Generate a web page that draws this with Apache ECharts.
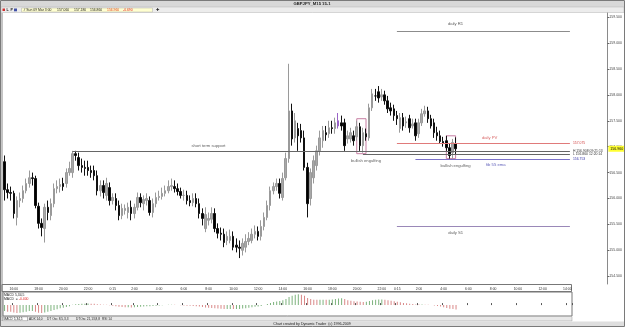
<!DOCTYPE html>
<html><head><meta charset="utf-8">
<script src="https://cdn.jsdelivr.net/npm/echarts@6/dist/echarts.min.js"></script>
<style>html,body{margin:0;padding:0;background:#fff;overflow:hidden}#c{width:625px;height:327px}</style>
</head><body><div id="c"></div>
<script>
// ---- data (GBPJPY M15) ----
const opens = [156.71,156.17,156.115,156.10,155.635,155.96,156.00,156.15,156.29,156.40,
156.385,155.85,155.52,155.42,155.83,155.67,155.90,156.19,156.23,156.29,
156.29,156.50,156.50,156.865,156.79,156.635,156.60,156.60,156.54,156.54,
156.44,156.15,156.25,156.06,156.21,155.96,156.00,155.865,155.67,155.77,
155.73,155.83,155.71,155.83,156.02,155.90,155.96,155.96,155.73,155.90,
156.02,156.04,156.10,156.15,156.23,156.23,156.19,156.135,156.06,156.06,
155.96,155.92,156.00,155.90,155.71,155.42,155.58,155.60,155.71,155.42,
155.33,155.31,155.19,155.19,155.27,155.10,155.06,155.00,155.06,155.17,
155.19,155.31,155.365,155.27,155.46,155.635,155.865,156.15,156.23,156.29,
156.02,156.40,156.77,157.69,157.17,157.35,157.31,157.17,156.60,156.00,
156.40,156.635,156.92,157.115,157.27,157.25,157.365,157.35,157.40,157.46,
157.46,157.15,157.15,157.21,157.19,157.385,157.02,157.25,157.17,157.75,
157.98,158.06,157.96,158.00,157.885,157.75,157.73,157.60,157.35,157.56,
157.46,157.54,157.40,157.46,157.25,157.46,157.635,157.69,157.54,157.46,
157.27,157.21,157.10,157.115,156.98,156.885,157.06];
const closes = [156.17,156.115,156.10,155.71,155.96,156.00,156.15,156.29,156.40,156.385,
155.865,155.52,155.44,155.83,155.73,155.90,156.19,156.23,156.27,156.23,
156.50,156.58,156.865,156.83,156.635,156.60,156.58,156.54,156.50,156.44,
156.15,156.25,156.115,156.29,155.96,156.02,155.865,155.67,155.81,155.81,
155.83,155.71,155.83,156.02,155.92,155.98,156.00,155.73,155.90,156.02,
156.04,156.10,156.15,156.23,156.25,156.19,156.135,156.06,156.06,155.96,
155.92,156.00,155.90,155.71,155.615,155.69,155.615,155.71,155.42,155.33,
155.31,155.15,155.27,155.27,155.06,155.06,155.04,155.135,155.17,155.23,
155.31,155.365,155.27,155.46,155.635,155.865,156.15,156.23,156.29,156.10,
156.385,156.77,157.69,157.15,157.50,157.21,157.17,156.60,155.90,156.50,
156.73,156.92,157.17,157.31,157.23,157.365,157.35,157.46,157.50,157.40,
157.02,157.21,157.27,157.115,157.385,157.02,157.27,157.19,157.75,158.02,
157.98,157.94,158.00,157.885,157.73,157.69,157.60,157.54,157.56,157.40,
157.48,157.365,157.44,157.21,157.46,157.635,157.69,157.54,157.40,157.27,
157.21,157.10,157.06,156.98,156.83,157.08,156.96];
const lows = [155.96,156.00,155.96,155.615,155.48,155.83,155.92,156.10,156.21,156.25,
155.81,155.42,155.27,155.15,155.58,155.58,155.83,156.10,156.115,156.15,
156.21,156.44,156.40,156.73,156.54,156.50,156.44,156.44,156.40,156.35,
156.06,156.04,156.00,155.96,155.865,155.885,155.77,155.58,155.60,155.69,
155.615,155.58,155.615,155.77,155.83,155.77,155.865,155.67,155.635,155.83,
155.96,155.98,156.04,156.10,156.15,156.115,156.06,156.00,155.96,155.885,
155.85,155.85,155.83,155.615,155.48,155.35,155.48,155.52,155.35,155.23,
155.19,155.06,155.10,155.135,155.00,154.96,154.85,154.90,154.96,155.10,
155.135,155.23,155.19,155.19,155.385,155.58,155.77,156.08,156.15,156.00,
155.96,156.35,156.69,157.02,157.08,156.92,157.08,156.54,155.635,155.865,
156.29,156.54,156.83,156.98,157.115,157.17,157.25,157.25,157.35,157.31,
156.92,157.06,157.08,157.02,157.115,156.92,156.885,157.115,157.115,157.69,
157.885,157.85,157.885,157.81,157.65,157.60,157.50,157.42,157.27,157.31,
157.365,157.27,157.35,157.115,157.17,157.40,157.58,157.46,157.35,157.17,
157.115,157.06,157.00,156.92,156.77,156.77,156.86];
const highs = [156.83,156.29,156.23,156.15,156.04,156.115,156.25,156.385,156.54,156.50,
156.44,155.92,155.615,155.90,155.96,156.00,156.29,156.35,156.385,156.40,
156.58,156.71,156.92,156.92,156.885,156.77,156.73,156.73,156.635,156.635,
156.54,156.35,156.35,156.40,156.31,156.10,156.10,155.96,155.90,155.885,
155.92,155.96,155.90,156.115,156.10,156.06,156.10,156.04,156.00,156.115,
156.15,156.21,156.25,156.35,156.385,156.35,156.29,156.21,156.17,156.15,
156.06,156.10,156.10,156.00,155.81,155.83,155.73,155.83,155.81,155.52,
155.44,155.42,155.365,155.40,155.365,155.23,155.19,155.23,155.31,155.35,
155.42,155.48,155.46,155.58,155.73,155.96,156.23,156.31,156.385,156.385,
156.50,156.885,158.60,157.83,157.65,157.46,157.44,157.31,156.69,156.58,
156.83,157.02,157.31,157.40,157.40,157.50,157.50,157.56,157.65,157.60,
157.54,157.31,157.365,157.31,157.50,157.46,157.365,157.35,157.83,158.115,
158.115,158.17,158.115,158.08,157.98,157.85,157.81,157.69,157.65,157.65,
157.58,157.615,157.54,157.54,157.54,157.73,157.79,157.77,157.615,157.54,
157.385,157.31,157.19,157.21,157.06,157.15,157.18];
const macdHist = [-0.55,-0.6,-0.62,-0.68,-0.72,-0.7,-0.66,-0.6,-0.55,-0.55,
-0.62,-0.7,-0.72,-0.68,-0.62,-0.55,-0.45,-0.38,-0.3,-0.25,
-0.18,-0.1,0.02,0.08,0.1,0.12,0.13,0.14,0.13,0.12,
0.08,0.05,0.03,0.02,-0.02,-0.05,-0.1,-0.15,-0.18,-0.2,
-0.2,-0.21,-0.2,-0.17,-0.15,-0.12,-0.1,-0.1,-0.08,-0.05,
-0.03,-0.01,0.01,0.02,0.03,0.02,0.01,-0.01,-0.03,-0.05,
-0.07,-0.08,-0.1,-0.14,-0.18,-0.22,-0.25,-0.26,-0.28,-0.32,
-0.34,-0.36,-0.36,-0.35,-0.36,-0.36,-0.35,-0.32,-0.28,-0.25,
-0.2,-0.16,-0.13,-0.08,0.0,0.1,0.2,0.28,0.34,0.38,
0.45,0.55,0.75,0.85,0.95,1.0,0.95,0.85,0.65,0.55,
0.5,0.48,0.5,0.5,0.48,0.5,0.52,0.56,0.6,0.62,
0.55,0.45,0.4,0.35,0.32,0.3,0.28,0.3,0.38,0.45,
0.5,0.52,0.52,0.5,0.45,0.4,0.35,0.3,0.25,0.2,
0.16,0.12,0.1,0.06,0.05,0.05,0.04,0.02,0.0,-0.04,
-0.08,-0.14,-0.2,-0.26,-0.33,-0.35,-0.4];
// trading sessions (15-minute bars), the chart continues into empty future slots
const sessions = [['15:15','23:45'],['0:15','23:00'],['0:15','16:45']];
const tickLabels = ['0:15','2:00','4:00','6:00','8:00','10:00','12:00','14:00','16:00','18:00','20:00','22:00'];
const macdSlots = 184;
// horizontal levels
const levelPrices = [159.23, 155.46, 157.075, 156.753, 156.908, 156.860];
const levelFrom = [127, 127, 127, 133, 22, 116];
const levelTo = [183, 183, 183, 183, 183, 183];
const levelEndText = ['', '', '157.075', '156.753', 'H 156.908 09:21:13', 'L 156.860 12:20:14'];
// text notes
const noteTexts = ['short term support','bullish engulfing','bullish engulfing','daily R1','daily PV','fib 55 ema','daily S1'];
const noteBars = [66, 117, 146, 146, 157, 159, 146];
const notePrices = [157.02, 156.73, 156.635, 159.365, 157.17, 156.65, 155.33];
// pattern boxes
const boxFrom = [114, 143];
const boxTo = [117, 146];
const boxHigh = [157.54, 157.21];
const boxLow = [156.865, 156.77];
const lastPrice = 156.960;
const markedBar = 108;
const yMin = 154.35, yMax = 159.58;

// ---- build ----
function expand(s, e) {
  const out = []; let [h, m] = s.split(':').map(Number); const [eh, em] = e.split(':').map(Number);
  while (h * 60 + m <= eh * 60 + em) { out.push(h + ':' + String(m).padStart(2, '0')); m += 15; if (m >= 60) { m -= 60; h++; } }
  return out;
}
const cats = sessions.flatMap(s => expand(s[0], s[1]));
const tickSet = new Set(tickLabels);
const showTick = (i, v) => tickSet.has(v);

const candleData = opens.map((o, i) => {
  const d = { value: [o, closes[i], lows[i], highs[i]] };
  if (i === markedBar) d.itemStyle = { color: '#9a62c8', color0: '#9a62c8', borderColor: '#9a62c8', borderColor0: '#9a62c8' };
  return d;
});
const macdData = macdHist.map((v, i) => ({
  value: v,
  itemStyle: { color: (i === 0 || v >= macdHist[i - 1]) ? '#7db37d' : '#d98888' }
}));
const F = 'Liberation Sans';
const lineColors = ['#8c8c8c', '#9a88b8', '#e07a7a', '#7a70c8', '#666', '#666'];
const lineLabelColors = ['#444', '#444', '#d04040', '#3535a8', '#333', '#333'];
const markLines = levelPrices.map((p, k) => [
  { coord: [levelFrom[k], p], lineStyle: { color: lineColors[k], width: 1, type: 'solid' },
    label: { show: !!levelEndText[k], formatter: levelEndText[k], position: 'end', distance: 3, fontSize: 3.4, color: lineLabelColors[k], fontFamily: F } },
  { coord: [levelTo[k], p] }
]);
markLines.push({ yAxis: lastPrice, lineStyle: { color: 'rgba(0,0,0,0)', width: 0.01 },
  label: { show: true, position: 'end', distance: 6, formatter: lastPrice.toFixed(3), fontSize: 3.6, color: '#000', backgroundColor: '#ffff33', padding: [1, 2], fontFamily: F } });
const boxes = boxFrom.map((b, k) => [{ coord: [b, boxHigh[k]] }, { coord: [boxTo[k], boxLow[k]] }]);
const noteColors = ['#333', '#333', '#333', '#333', '#d04040', '#3535a8', '#333'];
const notes = noteTexts.map((t, k) => ({ value: [noteBars[k], notePrices[k]],
  label: { show: true, formatter: t, color: noteColors[k] } }));

const txt = (x, y, s, o = {}) => ({ type: 'text', x, y, silent: true, style: Object.assign({ text: s, fontSize: 3.6, fill: '#222', fontFamily: F, textVerticalAlign: 'middle' }, o) });

const chart = echarts.init(document.getElementById('c'), null, { renderer: 'canvas' });
chart.setOption({
  animation: false,
  backgroundColor: '#fff',
  grid: [
    { left: 3, top: 13, width: 600, height: 271, show: false },
    { left: 3, top: 292, width: 569, height: 24, show: true, borderColor: '#777', borderWidth: 1, backgroundColor: '#fff' }
  ],
  xAxis: [
    { type: 'category', gridIndex: 0, data: cats, boundaryGap: true, axisLine: { show: false }, axisTick: { show: false }, axisLabel: { show: false }, splitLine: { show: false } },
    { type: 'category', gridIndex: 1, data: cats.slice(0, macdSlots), position: 'top', boundaryGap: true,
      axisLine: { show: false },
      axisTick: { show: true, interval: showTick, length: 2, inside: false, lineStyle: { color: '#555' } },
      axisLabel: { show: true, interval: showTick, fontSize: 3.4, margin: 1.5, color: '#333', fontFamily: F },
      splitLine: { show: false } }
  ],
  yAxis: [
    { type: 'value', gridIndex: 0, position: 'right', offset: 5, min: yMin, max: yMax, splitNumber: 10, scale: true,
      axisLine: { show: true, lineStyle: { color: '#8a8a8a', width: 1 } },
      axisTick: { show: true, length: 2, lineStyle: { color: '#666' } },
      axisLabel: { fontSize: 3.5, color: '#444', margin: 2, fontFamily: F, showMinLabel: false, showMaxLabel: false, formatter: v => v.toFixed(3) },
      splitLine: { show: false } },
    { type: 'value', gridIndex: 1, min: -1.0, max: 1.2, show: false, splitLine: { show: false } }
  ],
  series: [
    { type: 'candlestick', xAxisIndex: 0, yAxisIndex: 0, data: candleData, barWidth: 2,
      itemStyle: { color: '#a8a8a8', color0: '#000', borderColor: '#9a9a9a', borderColor0: '#111', borderWidth: 1 },
      markLine: { symbol: ['none', 'none'], silent: true, animation: false, data: markLines },
      markArea: { silent: true, itemStyle: { color: 'rgba(0,0,0,0)', borderColor: '#c77ea3', borderWidth: 1 }, data: boxes }
    },
    { type: 'scatter', xAxisIndex: 0, yAxisIndex: 0, symbolSize: 1, itemStyle: { color: 'rgba(0,0,0,0)' }, data: notes, silent: true, z: 5,
      label: { show: true, position: 'inside', fontSize: 4.2, fontFamily: F } },
    { type: 'bar', xAxisIndex: 1, yAxisIndex: 1, data: macdData, barWidth: 1 }
  ],
  graphic: [
    { type: 'rect', shape: { x: 0.5, y: 0.5, width: 624, height: 326 }, style: { fill: 'none', stroke: '#7a7a7a', lineWidth: 1 }, silent: true, z: 10 },
    { type: 'rect', shape: { x: 1, y: 1, width: 623, height: 6 }, style: { fill: '#d8d8d8' }, silent: true },
    txt(312, 4, 'GBPJPY_M15 15-1', { textAlign: 'center', fontWeight: 'bold', fontSize: 4.2 }),
    { type: 'rect', shape: { x: 1, y: 7, width: 623, height: 5.5 }, style: { fill: '#ececec', stroke: '#b5b5b5', lineWidth: 0.5 }, silent: true },
    { type: 'rect', shape: { x: 2.5, y: 8.5, width: 2.5, height: 2.5 }, style: { fill: '#d23030' }, silent: true },
    txt(6.5, 10, 'L', { fontSize: 3.6, fontWeight: 'bold' }),
    txt(10.5, 10, 'P', { fontSize: 3.6, fontWeight: 'bold' }),
    { type: 'rect', shape: { x: 14, y: 8.5, width: 3, height: 2.8 }, style: { fill: '#4050a8' }, silent: true },
    { type: 'rect', shape: { x: 21.5, y: 8, width: 131, height: 4 }, style: { fill: '#ffffd0', stroke: '#b0b0b0', lineWidth: 0.5 }, silent: true },
    txt(23.5, 10, '# Sun 09 Mar 3:00', { fontSize: 3.4 }),
    txt(57, 10, '157.060', { fontSize: 3.4 }),
    txt(74, 10, '157.180', { fontSize: 3.4 }),
    txt(90, 10, '156.860', { fontSize: 3.4 }),
    txt(107, 10, '156.960', { fontSize: 3.4, fill: '#e04020' }),
    txt(123, 10, '-0.690', { fontSize: 3.4, fill: '#e02020' }),
    txt(156, 10, '\u271A', { fontSize: 4 }),
    { type: 'line', shape: { x1: 2, y1: 13, x2: 2, y2: 316 }, style: { stroke: '#8a8a8a', lineWidth: 1 }, silent: true },
    { type: 'rect', shape: { x: 2, y: 284.5, width: 569.5, height: 7 }, style: { fill: 'none', stroke: '#777', lineWidth: 1 }, silent: true },
    txt(4, 295.5, 'MACD 5,34,5', { fontSize: 3.4 }),
    { type: 'text', x: 4, y: 299.5, silent: true, style: { text: '{a|MACD  = }{b|-0.400}', fontFamily: F, textVerticalAlign: 'middle',
      rich: { a: { fontSize: 3.4, fill: '#222', fontFamily: F }, b: { fontSize: 3.4, fill: '#e02020', fontFamily: F } } } },
    { type: 'rect', shape: { x: 1, y: 316.5, width: 571, height: 4.5 }, style: { fill: '#e8e8e8', stroke: '#999', lineWidth: 0.5 }, silent: true },
    { type: 'rect', shape: { x: 2.5, y: 316.8, width: 25, height: 4 }, style: { fill: '#fff', stroke: '#777', lineWidth: 0.5 }, silent: true },
    txt(3.5, 319, 'MACD 5,34,5', { fontSize: 3.2 }),
    txt(29, 319, 'ADX 14,0', { fontSize: 3.2 }),
    txt(47, 319, 'DT Osc 8,5,3,3', { fontSize: 3.2 }),
    txt(76, 319, 'DTOsc 21,13,8,8', { fontSize: 3.2 }),
    txt(102, 319, 'RSI 14', { fontSize: 3.2 }),
    { type: 'rect', shape: { x: 1, y: 321.5, width: 623, height: 5 }, style: { fill: '#dedede' }, silent: true },
    txt(312, 324, 'Chart created by Dynamic Trader  (c) 1996-2009', { fontSize: 3.6, textAlign: 'center' })
  ]
});
</script></body></html>
